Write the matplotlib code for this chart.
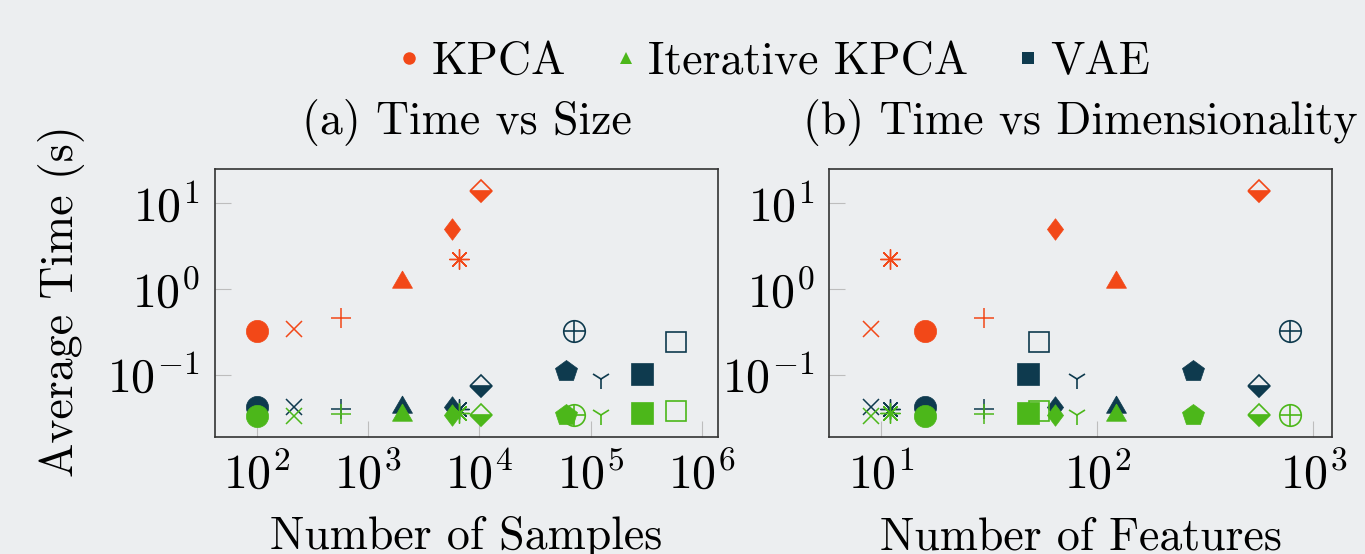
import numpy as np
import matplotlib
matplotlib.use('Agg')
import matplotlib.pyplot as plt
from matplotlib.lines import Line2D

# estilo tipo LaTeX
plt.rcParams['font.family'] = ['cmr10', 'DejaVu Serif']
plt.rcParams['mathtext.fontset'] = 'cm'
plt.rcParams['axes.formatter.use_mathtext'] = True
plt.rcParams['axes.unicode_minus'] = False

# datos (un marcador por dataset)
marcadores = ['circle', 'x', 'plus', 'triangle', 'diamond', 'asterisk', 'halfdiamond',
              'pentagon', 'oplus', 'tri', 'square_open', 'square']
muestras = [101, 214, 569, 2000, 5650, 6530, 10350, 60100, 71000, 124000, 585000, 292000]
features = [16, 9, 30, 122, 64, 11, 560, 279, 780, 81, 54, 48]
t_kpca = [0.325, 0.34, 0.457, 1.22, 4.98, 2.22, 13.8, np.nan, np.nan, np.nan, np.nan, np.nan]
t_vae = [0.0419, 0.0425, 0.0397, 0.0425, 0.042, 0.0397, 0.0743, 0.112, 0.325, 0.091, 0.244, 0.103]
t_ikpca = [0.0332, 0.0337, 0.0356, 0.034, 0.034, 0.036, 0.034, 0.034, 0.034, 0.034, 0.0382, 0.036]

metodos = ['KPCA', 'Iterative KPCA', 'VAE']
colores = {'KPCA': '#f24818', 'Iterative KPCA': '#4cb71a', 'VAE': '#0e3a4e'}
tiempos = {'KPCA': t_kpca, 'Iterative KPCA': t_ikpca, 'VAE': t_vae}
orden_dibujo = ['KPCA', 'VAE', 'Iterative KPCA']

fondo = '#eceef0'
fs = 33          # titulos, etiquetas, leyenda
fs_ticks = 34.5

TRI = [(0, 1), (-0.866, -0.5), (0.866, -0.5), (0, 1)]
DIA = [(0, 1), (0.75, 0), (0, -1), (-0.75, 0), (0, 1)]


def marcar(ax, x, y, m, c):
    if np.isnan(y):
        return
    if m == 'circle':
        ax.plot(x, y, 'o', ms=16, color=c, mew=0.5)
    elif m == 'x':
        ax.plot(x, y, 'x', ms=11, color=c, mew=1.1)
    elif m == 'plus':
        ax.plot(x, y, '+', ms=14.5, color=c, mew=1.1)
    elif m == 'triangle':
        ax.plot(x, y, marker=TRI, ls='', ms=16.6, color=c, mew=0.5)
    elif m == 'diamond':
        ax.plot(x, y, marker=DIA, ls='', ms=15.5, color=c, mew=0.5)
    elif m == 'asterisk':
        ax.plot(x, y, marker=(8, 2, 0), ls='', ms=14.4, color=c, mew=1.0)
        ax.plot(x, y, 'o', ms=3, color=c, mew=0)
    elif m == 'halfdiamond':
        ax.plot(x, y, 'D', ms=11, color=c, mec=c, mew=1.2, fillstyle='bottom',
                markerfacecoloralt=fondo)
    elif m == 'pentagon':
        ax.plot(x, y, 'p', ms=16, color=c, mew=0.5)
    elif m == 'oplus':
        ax.plot(x, y, 'o', ms=15.5, mfc='none', mec=c, mew=1.2)
        ax.plot(x, y, '+', ms=15.5, color=c, mew=1.2)
    elif m == 'tri':
        ax.plot(x, y, '1', ms=15, color=c, mew=1.2)
    elif m == 'square_open':
        ax.plot(x, y, 's', ms=15, mfc='none', mec=c, mew=1.2)
    elif m == 'square':
        ax.plot(x, y, 's', ms=15.5, color=c, mew=0.5)


fig = plt.figure(figsize=(13.65, 5.54), dpi=100)
fig.patch.set_facecolor(fondo)

W, H = 1365, 554
ax_a = fig.add_axes([215 / W, (H - 437) / H, 503 / W, 268 / H])
ax_b = fig.add_axes([829.3 / W, (H - 437) / H, 503 / W, 268 / H])

paneles = [
    (ax_a, muestras, (10 ** 1.625, 10 ** 6.144), [1e2, 1e3, 1e4, 1e5, 1e6],
     '(a) Time vs Size', 'Number of Samples'),
    (ax_b, features, (10 ** 0.761, 10 ** 3.088), [1e1, 1e2, 1e3],
     '(b) Time vs Dimensionality', 'Number of Features'),
]

for ax, xs, xlim, xt, titulo, xlab in paneles:
    ax.set_facecolor(fondo)
    ax.set_xscale('log')
    ax.set_yscale('log')
    for met in orden_dibujo:
        for x, y, m in zip(xs, tiempos[met], marcadores):
            marcar(ax, x, y, m, colores[met])
    ax.set_xlim(*xlim)
    ax.set_ylim(10 ** -1.722, 10 ** 1.40)
    ax.set_xticks(xt)
    ax.set_yticks([1e-1, 1e0, 1e1])
    ax.minorticks_off()
    ax.tick_params(direction='in', length=11.5, width=0.8, color='#bdbdbd',
                   labelsize=fs_ticks, pad=11, top=False, right=False)
    for s in ax.spines.values():
        s.set_color('#333333')
        s.set_linewidth(1.2)
    pos = ax.get_position()
    cx = (pos.x0 + pos.x1) / 2
    fig.text(cx, (H - 134) / H, titulo, ha='center', va='baseline', fontsize=fs)
    fig.text(cx, (H - 549) / H, xlab, ha='center', va='baseline', fontsize=fs)

fig.text(62 / W, (H - 301) / H, 'Average Time (s)', rotation=90, ha='center',
         va='center', fontsize=fs)

# leyenda
formas_leyenda = {'KPCA': 'o', 'Iterative KPCA': '^', 'VAE': 's'}
handles = [Line2D([], [], ls='', marker=formas_leyenda[m], ms=9, color=colores[m], mew=0)
           for m in metodos]
fig.legend(handles, metodos, loc='center', bbox_to_anchor=(776 / W, 1 - 62 / H),
           ncol=3, frameon=False, fontsize=fs, handlelength=0.3, handletextpad=0.33,
           columnspacing=1.16, borderpad=0, borderaxespad=0)

fig.savefig('out.png', dpi=100, facecolor=fondo)
